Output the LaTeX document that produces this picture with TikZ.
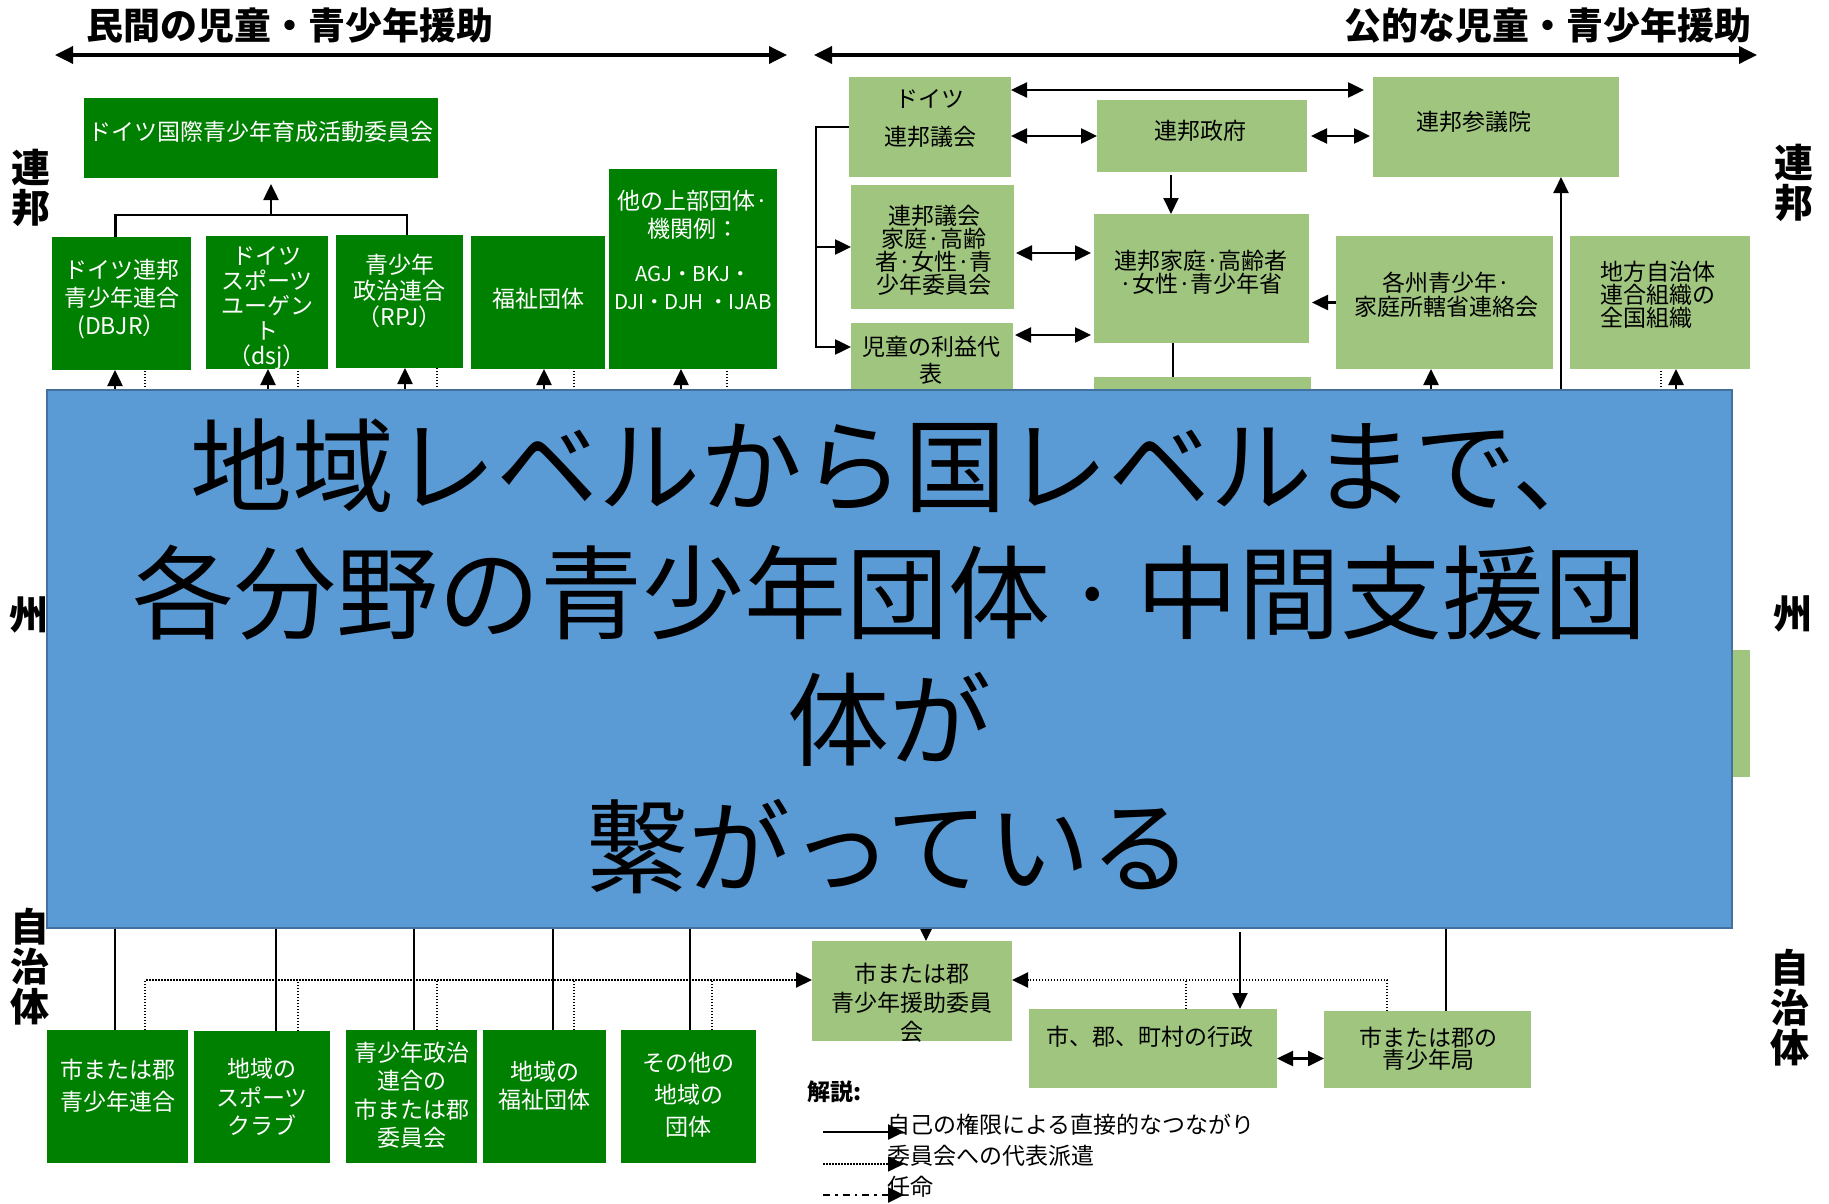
\documentclass[tikz,border=0pt]{standalone}
\usepackage{fontspec}
\setmainfont{Noto Sans CJK JP}
\usetikzlibrary{arrows.meta,fit}
\newcommand\myfs[2]{\fontsize{#1}{#2}\selectfont}
\newcommand\mkbox[6]{\node[#6,inner sep=0pt,outer sep=0pt,fit={(#2,#3) (#4,#5)}] (#1) {};}
\definecolor{dg}{RGB}{0,128,0}
\definecolor{lg}{RGB}{159,197,127}
\definecolor{bl}{RGB}{91,155,213}
\definecolor{bld}{RGB}{65,113,156}
\pgfdeclarelayer{front}
\pgfsetlayers{main,front}
\tikzset{
  dgbox/.style={fill=dg},
  lgbox/.style={fill=lg},
  wt/.style={text=white,align=center,inner sep=0pt},
  bt/.style={text=black,align=center,inner sep=0pt},
  ln/.style={line width=2.5pt},
  myhead/.tip={Triangle[length=16pt,width=15pt]},
  bighead/.tip={Triangle[length=18pt,width=17pt]},
  arr/.style={ln,-myhead},
  darr/.style={ln,myhead-myhead},
  dotln/.style={line width=2pt,dash pattern=on 1.5pt off 1.5pt},
  dotarr/.style={dotln,-myhead},
  tarr/.style={line width=3.5pt,bighead-bighead},
  side/.style={font=\myfs{39}{40}\bfseries,align=center,inner sep=0pt},
  ttl/.style={font=\myfs{37}{40}\bfseries,inner sep=0pt},
}
\begin{document}
\begin{tikzpicture}[x=1pt,y=-1pt]
\useasboundingbox[fill=white] (0,0) rectangle (1829,1204);

% ---------- front layer: central blue panel ----------
\begin{pgfonlayer}{front}
\node[fill=bl,draw=bld,line width=2.5pt,inner sep=0pt,outer sep=0pt,fit={(47,390) (1732,928)}] (blue) {};
\node[align=center,inner sep=0pt,font=\myfs{102}{127}] (blue-t) at ([yshift=3pt]blue.center)
  {\kern25pt 地域レベルから国レベルまで、\\各分野の青少年団体\kern14pt·\kern14pt 中間支援団\\体が\\繋がっている};
\end{pgfonlayer}

% ---------- titles ----------
\node[ttl] (title-l) at (290,26) {民間の児童・青少年援助};
\node[ttl] (title-r) at (1548,26) {公的な児童・青少年援助};
\coordinate (la) at (55,55); \coordinate (lb) at (787,55);
\coordinate (ra) at (814,55); \coordinate (rb) at (1757,55);
\draw[tarr] (la) -- (lb);
\draw[tarr] (ra) -- (rb);

% ---------- side labels ----------
\node[side] (lf-b) at (31,188) {連\\邦};
\node[side] (lf-s) at (29,615) {州};
\node[side] (lf-j) at (30,967) {自\\治\\体};
\node[side] (rt-b) at (1794,183) {連\\邦};
\node[side] (rt-s) at (1793,614) {州};
\node[side] (rt-j) at (1790,1008) {自\\治\\体};

% ---------- private federal boxes ----------
\mkbox{dij}{84}{98}{438}{178}{dgbox}
\mkbox{dbjr}{52}{237}{191}{370}{dgbox}
\mkbox{dsj}{206}{236}{328}{369}{dgbox}
\mkbox{rpj}{336}{235}{463}{368}{dgbox}
\mkbox{fuku}{471}{236}{605}{369}{dgbox}
\mkbox{other}{609}{169}{777}{369}{dgbox}
\node[wt,font=\myfs{23}{27}] (dij-t) at (261,132) {ドイツ国際青少年育成活動委員会};
\node[wt,font=\myfs{23}{28}] (dbjr-t) at (121.5,299) {ドイツ連邦\\青少年連合\\(DBJR）};
\node[wt,font=\myfs{23}{25}] (dsj-t) at (267,308) {ドイツ\\スポーツ\\ユーゲン\\ト\\（dsj）};
\node[wt,font=\myfs{23}{26}] (rpj-t) at (399.5,291) {青少年\\政治連合\\（RPJ）};
\node[wt,font=\myfs{23}{27}] (fuku-t) at (538,299) {福祉団体};
\node[wt,font=\myfs{23}{28}] (other-t) at (693,250) {他の上部団体·\\機関例：\\[16pt]{\myfs{20.5}{28}AGJ・BKJ・}\\{\myfs{20.5}{28}DJI・DJH ・IJAB}};

% ---------- public federal boxes ----------
\mkbox{bundestag}{849}{77}{1011}{177}{lgbox}
\mkbox{regierung}{1097}{100}{1307}{172}{lgbox}
\mkbox{bundesrat}{1373}{77}{1619}{177}{lgbox}
\mkbox{committee}{851}{185}{1014}{309}{lgbox}
\mkbox{ministry}{1094}{214}{1309}{343}{lgbox}
\mkbox{kakushu}{1336}{236}{1553}{369}{lgbox}
\mkbox{chiho}{1570}{236}{1750}{369}{lgbox}
\mkbox{kinder}{851}{323}{1013}{420}{lgbox}
\mkbox{lowbox}{1094}{377}{1311}{420}{lgbox}
\mkbox{peek}{1560}{650}{1750}{777}{lgbox}
\node[bt,font=\myfs{23}{38}] (bundestag-t) at (930,119) {ドイツ\\連邦議会};
\node[bt,font=\myfs{23}{27}] (regierung-t) at (1200,131) {連邦政府};
\node[bt,font=\myfs{23}{27}] (bundesrat-t) at (1474,122) {連邦参議院};
\node[bt,font=\myfs{23}{23}] (committee-t) at (934,250) {連邦議会\\家庭·高齢\\者·女性·青\\少年委員会};
\node[bt,font=\myfs{23}{23}] (ministry-t) at (1201,272) {連邦家庭·高齢者\\·女性·青少年省};
\node[bt,font=\myfs{23}{24}] (kakushu-t) at (1446,295) {各州青少年·\\家庭所轄省連絡会};
\node[bt,font=\myfs{23}{23},align=left,anchor=west] (chiho-t) at (1600,295) {地方自治体\\連合組織の\\全国組織};
\node[bt,font=\myfs{23}{27}] (kinder-t) at (931,360) {児童の利益代\\表};

% ---------- municipal boxes ----------
\mkbox{b1}{47}{1030}{188}{1163}{dgbox}
\mkbox{b2}{194}{1031}{330}{1163}{dgbox}
\mkbox{b3}{346}{1030}{477}{1163}{dgbox}
\mkbox{b4}{483}{1030}{606}{1163}{dgbox}
\mkbox{b5}{621}{1030}{756}{1163}{dgbox}
\mkbox{enkyo}{812}{941}{1012}{1041}{lgbox}
\mkbox{gyosei}{1029}{1009}{1277}{1088}{lgbox}
\mkbox{kyoku}{1324}{1011}{1531}{1088}{lgbox}
\node[wt,font=\myfs{23}{32}] (b1-t) at (117.5,1086) {市または郡\\青少年連合};
\node[wt,font=\myfs{23}{28.5}] (b2-t) at (262,1097) {地域の\\スポーツ\\クラブ};
\node[wt,font=\myfs{23}{28.5}] (b3-t) at (411.5,1095) {青少年政治\\連合の\\市または郡\\委員会};
\node[wt,font=\myfs{23}{28}] (b4-t) at (544.5,1086) {地域の\\福祉団体};
\node[wt,font=\myfs{23}{32}] (b5-t) at (688.5,1095) {その他の\\地域の\\団体};
\node[bt,font=\myfs{23}{29}] (enkyo-t) at (912,1003) {市または郡\\青少年援助委員\\会};
\node[bt,font=\myfs{23}{27}] (gyosei-t) at (1150,1037) {市、郡、町村の行政};
\node[bt,font=\myfs{23}{22}] (kyoku-t) at (1428,1049) {市または郡の\\青少年局};

% ---------- connectors: private federal ----------
\coordinate (brl) at ([xshift=-6pt]dbjr.north);
\coordinate (brr) at ([xshift=7.5pt]rpj.north);
\draw[ln] (brl) -- ++(0,-22) coordinate (brl2) -| (brr);
\draw[arr,shorten >=6pt] ([xshift=10pt]dij.south |- brl2) -- ([xshift=10pt]dij.south);
\foreach \nm/\a/\d in {dbjr/-6.5pt/23.5pt, dsj/1pt/31pt, rpj/5.5pt/37.5pt, fuku/6pt/36pt, other/-12pt/34pt}{
  \draw[arr] ([xshift=\a]\nm.south |- blue.north) -- ([xshift=\a]\nm.south);
  \draw[dotln] ([xshift=\d]\nm.south |- blue.north) -- ([xshift=\d]\nm.south);
}

% ---------- connectors: public federal ----------
\draw[darr,shorten >=9pt] ([yshift=-13pt]bundestag.north east) -- ([yshift=-13pt]bundesrat.north west);
\draw[darr] (bundestag.east |- regierung.west) -- (regierung.west);
\draw[darr,shorten <=4pt,shorten >=3pt] (regierung.east) -- (regierung.east -| bundesrat.west);
\draw[arr,line width=2pt,shorten <=3pt] ([xshift=-31pt]regierung.south) -- ([xshift=-31pt]regierung.south |- ministry.north);
\draw[arr] (bundestag.west) -- ++(-33,0) |- (committee.west);
\draw[arr] (bundestag.west) -- ++(-33,0) |- ([yshift=-24pt]kinder.north west);
\draw[darr,shorten <=2pt,shorten >=3pt] ([yshift=-6pt]committee.east) -- ([yshift=-6pt]committee.east -| ministry.west);
\draw[darr,shorten <=2pt,shorten >=3pt] ([yshift=-12pt]kinder.north east) -- ([yshift=-12pt]kinder.north east -| ministry.west);
\draw[arr,shorten >=3pt] (kakushu.west) -- (kakushu.west -| ministry.east);
\draw[line width=2pt] ([xshift=-28.5pt]ministry.south) -- ([xshift=-28.5pt]ministry.south |- lowbox.north);
\draw[arr,line width=2pt] ([xshift=65pt]bundesrat.south |- blue.north) -- ([xshift=65pt]bundesrat.south);
\draw[arr] ([xshift=-13.5pt]kakushu.south |- blue.north) -- ([xshift=-13.5pt]kakushu.south);
\draw[arr] ([xshift=16pt]chiho.south |- blue.north) -- ([xshift=16pt]chiho.south);
\draw[dotln] ([xshift=1pt]chiho.south |- blue.north) -- ([xshift=1pt]chiho.south);

% ---------- connectors: municipal ----------
\coordinate (dl) at ([yshift=11pt]enkyo.west);
\foreach \nm/\a in {b1/-2.5pt, b2/14pt, b3/2.5pt, b4/8.5pt, b5/1.5pt}{
  \draw[ln] ([xshift=\a]\nm.north |- blue.south) -- ([xshift=\a]\nm.north);
}
\draw[dotarr] ([xshift=27.5pt]b1.north) |- (dl -| enkyo.west);
\foreach \nm/\d in {b2/36pt, b3/25.5pt, b4/29.5pt, b5/23.5pt}{
  \draw[dotln] ([xshift=\d]\nm.north) -- ([xshift=\d]\nm.north |- dl);
}
\draw[arr] ([xshift=14pt]enkyo.north |- blue.south) -- ([xshift=14pt]enkyo.north);
\draw[arr,line width=2pt,shorten <=4pt] ([xshift=87pt]gyosei.north |- blue.south) -- ([xshift=87pt]gyosei.north);
\draw[ln] ([xshift=18.5pt]kyoku.north |- blue.south) -- ([xshift=18.5pt]kyoku.north);
\draw[dotarr] ([xshift=-40.5pt]kyoku.north) |- (dl -| enkyo.east);
\draw[dotln] ([xshift=33pt]gyosei.north) -- ([xshift=33pt]gyosei.north |- dl);
\draw[darr] ([yshift=-10pt]gyosei.east) -- ([yshift=-10pt]gyosei.east -| kyoku.west);

% ---------- legend ----------
\node[font=\myfs{23}{26}\bfseries,anchor=west,inner sep=0pt] (key) at (807,1092) {解説:};
\coordinate (k1) at (823,1132);
\coordinate (k2) at (823,1164);
\coordinate (k3) at (823,1195);
\draw[arr] (k1) -- ++(81,0);
\draw[dotarr,line width=1.5pt] (k2) -- ++(81,0);
\draw[ln,dash pattern=on 7pt off 5pt on 2.5pt off 5pt,-myhead] (k3) -- ++(81,0);
\node[font=\myfs{23}{26},anchor=west,inner sep=0pt] (k1t) at (887,1125) {自己の権限による直接的なつながり};
\node[font=\myfs{23}{26},anchor=west,inner sep=0pt] (k2t) at (887,1156) {委員会への代表派遣};
\node[font=\myfs{23}{26},anchor=west,inner sep=0pt] (k3t) at (887,1187) {任命};
\end{tikzpicture}
\end{document}
